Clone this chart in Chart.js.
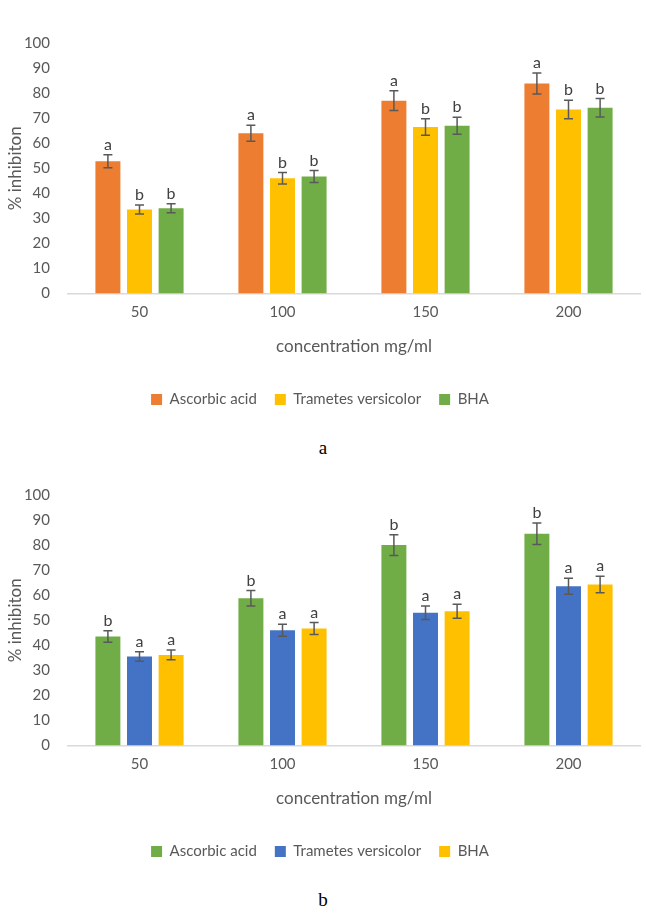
<!DOCTYPE html>
<html>
<head>
<meta charset="utf-8">
<script src="https://cdn.jsdelivr.net/npm/chart.js@4.4.1/dist/chart.umd.min.js"></script>
<style>
  html, body { margin: 0; padding: 0; background: #fff; }
  body { min-height: 916px; }
  .panel { position: relative; width: 646px; height: 452px; }
  .panel canvas { position: absolute; left: 0; top: 0; }
  .caption { position: absolute; left: 0; width: 646px; text-align: center; top: 437px;
             font-family: "Liberation Serif", "DejaVu Serif", serif; font-size: 19px; color: #000; }
</style>
</head>
<body>
<div class="panel"><canvas id="chartA" width="646" height="425"></canvas><div class="caption">a</div></div>
<div class="panel"><canvas id="chartB" width="646" height="425"></canvas><div class="caption">b</div></div>
<script>
// categorías (eje x)
const concentrations = ['50', '100', '150', '200'];

// gráfico a
const aAscorbic = [52.8, 64.0, 77.0, 83.8];
const aTrametes = [33.6, 46.0, 66.5, 73.5];
const aBHA = [34.1, 46.7, 67.0, 74.2];
const aAscorbicErr = [2.6, 3.2, 3.9, 4.2];
const aTrametesErr = [1.8, 2.3, 3.3, 3.7];
const aBHAErr = [1.8, 2.4, 3.4, 3.7];
const aLetters = ['a', 'b', 'b'];

// gráfico b
const bAscorbic = [43.5, 58.8, 80.0, 84.5];
const bTrametes = [35.6, 46.0, 53.0, 63.6];
const bBHA = [36.2, 46.7, 53.6, 64.3];
const bAscorbicErr = [2.3, 3.1, 4.1, 4.3];
const bTrametesErr = [1.9, 2.4, 2.7, 3.2];
const bBHAErr = [1.9, 2.4, 2.8, 3.3];
const bLetters = ['b', 'a', 'a'];

const seriesNames = ['Ascorbic acid', 'Trametes versicolor', 'BHA'];
const yTicks = [0, 10, 20, 30, 40, 50, 60, 70, 80, 90, 100];

const FONT = 'Lato, "Open Sans", sans-serif';
const TXT = '#595959';

// barras de error + letras de significancia
const errorBars = {
    id: 'errorBars',
    afterDatasetsDraw(chart) {
        const ctx = chart.ctx;
        const y = chart.scales.y;
        ctx.save();
        chart.data.datasets.forEach((ds, i) => {
            const meta = chart.getDatasetMeta(i);
            meta.data.forEach((bar, j) => {
                const v = ds.data[j], e = ds.errors[j];
                const top = y.getPixelForValue(v + e);
                const bot = y.getPixelForValue(v - e);
                const x = bar.x;
                ctx.strokeStyle = '#595959';
                ctx.lineWidth = 1.5;
                ctx.beginPath();
                ctx.moveTo(x, top); ctx.lineTo(x, bot);
                ctx.moveTo(x - 4.5, top); ctx.lineTo(x + 4.5, top);
                ctx.moveTo(x - 4.5, bot); ctx.lineTo(x + 4.5, bot);
                ctx.stroke();
                ctx.fillStyle = '#404040';
                ctx.font = '16px ' + FONT;
                ctx.textAlign = 'center';
                ctx.textBaseline = 'bottom';
                ctx.fillText(ds.letter, x, top - 2);
            });
        });
        ctx.restore();
    }
};

function makeChart(id, values, errs, colors, letters) {
    const datasets = values.map((vals, i) => ({
        label: seriesNames[i],
        data: vals,
        errors: errs[i],
        letter: letters[i],
        backgroundColor: colors[i],
        borderWidth: 0,
        barPercentage: 0.79,
        categoryPercentage: 0.663
    }));
    return new Chart(document.getElementById(id), {
        type: 'bar',
        data: { labels: concentrations, datasets },
        plugins: [errorBars],
        options: {
            responsive: false,
            animation: false,
            layout: { padding: { top: 43, right: 6, left: 0, bottom: 8 } },
            plugins: {
                tooltip: { enabled: false },
                legend: {
                    position: 'bottom',
                    labels: { color: TXT, boxWidth: 11, boxHeight: 11, padding: 18,
                              font: { family: FONT, size: 15 } }
                }
            },
            scales: {
                x: {
                    grid: { display: true, color: 'rgba(0,0,0,0)', drawTicks: false },
                    border: { display: true, color: '#d9d9d9', width: 1.5 },
                    ticks: { color: TXT, padding: 9.5, font: { family: FONT, size: 15 } },
                    title: { display: true, text: 'concentration mg/ml', color: TXT,
                             padding: { top: 6, bottom: 17 }, font: { family: FONT, size: 17 } }
                },
                y: {
                    min: 0, max: 100,
                    afterFit(scale) { scale.width = 68; },
                    afterBuildTicks(scale) { scale.ticks = yTicks.map(v => ({ value: v })); },
                    grid: { display: false },
                    border: { display: false },
                    ticks: { color: TXT, padding: 10, font: { family: FONT, size: 15 } },
                    title: { display: true, text: '% inhibiton', color: TXT,
                             padding: { top: 5, bottom: 0 }, font: { family: FONT, size: 17 } }
                }
            }
        }
    });
}

makeChart('chartA', [aAscorbic, aTrametes, aBHA], [aAscorbicErr, aTrametesErr, aBHAErr],
          ['#ED7D31', '#FFC000', '#70AD47'], aLetters);
makeChart('chartB', [bAscorbic, bTrametes, bBHA], [bAscorbicErr, bTrametesErr, bBHAErr],
          ['#70AD47', '#4472C4', '#FFC000'], bLetters);
</script>
</body>
</html>
